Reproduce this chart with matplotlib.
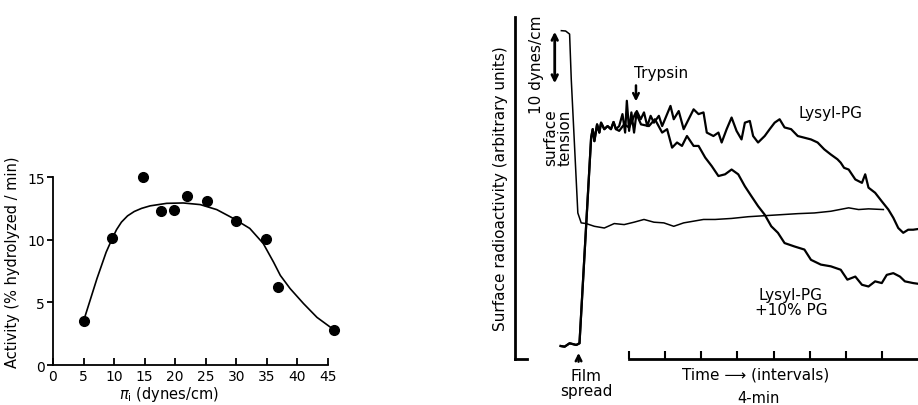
import matplotlib.pyplot as plt

plt.rcParams['font.family'] = ['DejaVu Sans']

# left panel: activity vs initial surface pressure
pressure = [5, 9.7, 14.7, 17.6, 19.8, 21.9, 25.2, 30.0, 34.9, 36.9, 46.0]
activity = [3.5, 10.1, 15.0, 12.3, 12.35, 13.5, 13.1, 11.5, 10.05, 6.2, 2.8]
# fitted curve as drawn
fit_x = [5, 7.2, 8.7, 9.7, 10.4, 11.2, 12.2, 13.3, 14.5, 15.9, 18.6, 21.3, 24.1,
         26.8, 29.5, 32.2, 34.4, 36.1, 37.2, 38.8, 41.0, 43.2, 46.0]
fit_y = [3.5, 6.9, 9.0, 10.1, 10.8, 11.4, 11.9, 12.25, 12.5, 12.7, 12.9, 12.93,
         12.8, 12.4, 11.7, 10.9, 9.7, 8.2, 7.15, 6.1, 4.9, 3.8, 2.8]

# right panel: recorder traces, time in 4-min intervals, arbitrary units
tension_t = [-1.876, -1.758, -1.648, -1.602, -1.420, -1.327, -1.190, -0.962, -0.687,
             -0.412, -0.137, 0.137, 0.412, 0.687, 0.962, 1.236, 1.511, 1.786, 2.060,
             2.382, 2.838, 3.297, 3.755, 4.212, 4.670, 5.129, 5.585, 6.080, 6.355,
             6.629, 7.041]
tension_r = [96.0, 95.9, 95.0, 81.8, 42.7, 39.8, 39.6, 38.8, 38.3, 39.6, 39.3, 40.0,
             40.8, 40.0, 39.8, 38.8, 39.8, 40.3, 40.8, 40.8, 41.1, 41.6, 41.9, 42.2,
             42.5, 42.7, 43.2, 44.2, 43.7, 43.9, 43.7]

start_t = [-1.896, -1.786, -1.648, -1.464, -1.374, -1.052, -1.008, -0.962, -0.887,
           -0.824, -0.777, -0.687, -0.596, -0.503, -0.431, -0.365]
start_r = [3.8, 3.6, 4.6, 4.1, 4.6, 64.7, 67.2, 63.7, 68.6, 66.2, 69.1, 67.2, 68.1,
           67.2, 69.3, 67.2]

lysyl_t = [-0.275, -0.184, -0.110, -0.063, 0.0, 0.063, 0.137, 0.212, 0.321, 0.412,
           0.503, 0.596, 0.687, 0.824, 0.915, 1.052, 1.146, 1.236, 1.374, 1.511,
           1.648, 1.786, 1.923, 2.060, 2.151, 2.335, 2.473, 2.563, 2.701, 2.838,
           2.975, 3.113, 3.206, 3.343, 3.434, 3.571, 3.755, 3.893, 4.030, 4.168,
           4.305, 4.486, 4.670, 4.854, 5.036, 5.220, 5.404, 5.585, 5.769, 5.860,
           5.953, 6.080, 6.264, 6.448, 6.538, 6.629, 6.813, 6.997, 7.179, 7.316,
           7.453, 7.591, 7.728, 7.865, 8.0]
lysyl_r = [68.1, 71.6, 66.2, 75.5, 66.7, 72.1, 66.2, 72.5, 70.1, 72.1, 68.1, 71.1,
           69.1, 71.1, 68.1, 71.6, 74.0, 70.1, 72.5, 67.2, 70.1, 73.0, 71.6, 72.1,
           66.2, 65.2, 66.2, 63.3, 67.2, 70.6, 66.7, 64.2, 69.1, 69.6, 65.2, 63.3,
           65.2, 67.2, 69.1, 70.1, 67.7, 67.2, 65.2, 64.7, 64.2, 63.3, 61.3, 59.8,
           58.4, 57.4, 55.9, 55.4, 52.5, 51.5, 54.0, 50.1, 48.6, 46.1, 43.7, 41.3,
           38.3, 36.9, 37.8, 37.8, 38.0]

pg_t = [-0.275, -0.137, 0.0, 0.184, 0.330, 0.549, 0.714, 0.915, 1.052, 1.190, 1.327,
        1.464, 1.602, 1.786, 1.923, 2.107, 2.288, 2.473, 2.657, 2.838, 3.022, 3.206,
        3.387, 3.571, 3.755, 3.937, 4.121, 4.305, 4.580, 4.854, 5.036, 5.310, 5.585,
        5.860, 6.044, 6.264, 6.448, 6.629, 6.813, 6.997, 7.135, 7.316, 7.500, 7.637,
        7.865, 8.0]
pg_r = [66.7, 68.6, 67.7, 72.1, 68.6, 68.1, 70.1, 66.2, 67.2, 61.8, 63.3, 62.3, 65.2,
        62.3, 62.3, 58.9, 56.4, 53.5, 54.0, 55.4, 54.0, 50.5, 47.6, 44.7, 42.2, 38.8,
        36.9, 33.9, 32.9, 32.0, 29.0, 27.6, 27.1, 26.1, 23.2, 24.1, 21.7, 21.2, 22.7,
        22.2, 24.6, 25.1, 24.1, 22.7, 22.2, 22.0]

interval_ticks = [0, 1, 2, 3, 4, 5, 6, 7]

fig = plt.figure(figsize=(9.18, 4.06), dpi=100)

# ---- left panel
ax1 = fig.add_axes([0.0577, 0.0985, 0.2996, 0.463])
ax1.plot(fit_x, fit_y, color='black', lw=1.2, clip_on=False)
ax1.plot(pressure, activity, 'o', color='black', ms=7, clip_on=False)
ax1.set_xlim(0, 45)
ax1.set_ylim(0, 15)
ax1.set_xticks(range(0, 46, 5))
ax1.set_yticks([0, 5, 10, 15])
ax1.spines['top'].set_visible(False)
ax1.spines['right'].set_visible(False)
ax1.spines['left'].set_linewidth(1.3)
ax1.spines['bottom'].set_linewidth(1.3)
ax1.tick_params(axis='x', direction='in', length=5, width=1.3, labelsize=10, pad=3)
ax1.tick_params(axis='y', direction='out', length=4, width=1.3, labelsize=10, pad=2)
ax1.set_ylabel('Activity (% hydrolyzed / min)', fontsize=10.5, labelpad=4)
ax1.yaxis.set_label_coords(-0.12, 0.55)
ax1.set_xlabel(r'$\pi_\mathrm{i}$ (dynes/cm)', fontsize=10.5, labelpad=2)
ax1.xaxis.set_label_coords(0.42, -0.1)

# ---- right panel
ax2 = fig.add_axes([0.561, 0.1133, 0.439, 0.8424])
ax2.set_xlim(-3.16, 8.0)
ax2.set_ylim(0, 100)
ax2.plot(tension_t, tension_r, color='black', lw=1.1)
ax2.plot(start_t + lysyl_t, start_r + lysyl_r, color='black', lw=1.6)
ax2.plot(start_t + pg_t, start_r + pg_r, color='black', lw=1.6)

for side in ['top', 'right']:
    ax2.spines[side].set_visible(False)
ax2.spines['left'].set_bounds(0, 100)
ax2.spines['left'].set_linewidth(2)
ax2.spines['bottom'].set_bounds(0, 8.0)
ax2.spines['bottom'].set_linewidth(2)
ax2.set_yticks([])
ax2.set_xticks(interval_ticks)
ax2.set_xticklabels([])
ax2.tick_params(axis='x', direction='in', length=6, width=1.5)
# short foot at the bottom of the left line
ax2.plot([-3.16, -2.83], [0, 0], color='black', lw=2, clip_on=False)

ax2.set_ylabel('Surface radioactivity (arbitrary units)', fontsize=11, labelpad=5)

ax2.text(-2.555, 86.2, '10 dynes/cm', rotation=90, ha='center', va='center', fontsize=11)
ax2.annotate('', xy=(-2.06, 96.5), xytext=(-2.06, 79.8),
             arrowprops=dict(arrowstyle='<->', lw=2, color='black'))
ax2.text(-1.98, 65.1, 'surface\ntension', rotation=90, ha='center', va='center',
         fontsize=11, linespacing=0.95)

ax2.text(0.88, 83.9, 'Trypsin', ha='center', va='center', fontsize=11)
ax2.annotate('', xy=(0.19, 74.5), xytext=(0.19, 80.8),
             arrowprops=dict(arrowstyle='->', lw=1.8, color='black'))
ax2.text(5.58, 72.1, 'Lysyl-PG', ha='center', va='center', fontsize=11)
ax2.text(4.48, 16.7, 'Lysyl-PG\n+10% PG', ha='center', va='center', fontsize=11,
         linespacing=1.0)

ax2.annotate('', xy=(-1.40, 2.6), xytext=(-1.40, -1.6),
             arrowprops=dict(arrowstyle='->', lw=1.8, color='black'),
             annotation_clip=False)
ax2.text(-1.18, -7.0, 'Film\nspread', ha='center', va='center', fontsize=11,
         linespacing=1.0, clip_on=False)
ax2.text(3.49, -4.4, 'Time \u27f6 (intervals)', ha='center', va='center', fontsize=11,
         clip_on=False)
ax2.text(3.57, -11.2, '4-min', ha='center', va='center', fontsize=10.5, clip_on=False)

fig.savefig('out.png', dpi=100)
